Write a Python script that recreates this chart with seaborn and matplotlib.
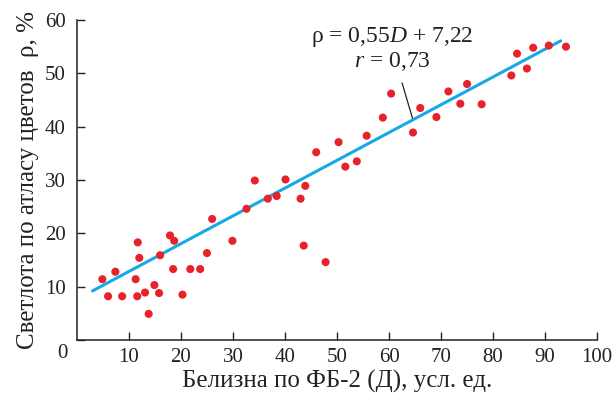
import matplotlib
matplotlib.use("Agg")
import matplotlib.pyplot as plt
import seaborn as sns
import pandas as pd

# measured points (ФБ-2 whiteness vs. lightness)
belizna = [4.9, 6.0, 7.4, 8.7, 11.3, 11.7, 12.0, 11.6, 13.1, 13.8, 14.9, 15.8, 16.0,
           17.9, 18.7, 18.5, 20.3, 21.8, 23.7, 25.0, 26.0, 29.9, 32.6, 34.2, 36.7,
           38.4, 40.1, 43.0, 43.9, 43.6, 46.0, 47.8, 50.3, 51.6, 53.8, 55.7, 58.8,
           60.4, 64.6, 66.0, 69.1, 71.4, 73.7, 75.0, 77.8, 83.5, 84.6, 86.5, 87.7,
           90.7, 94.0]
svetlota = [11.4, 8.2, 12.8, 8.2, 11.4, 18.3, 15.4, 8.2, 8.9, 4.9, 10.3, 8.8, 15.9,
            19.6, 18.6, 13.3, 8.5, 13.3, 13.3, 16.3, 22.7, 18.6, 24.6, 29.9, 26.5,
            27.0, 30.1, 26.5, 28.9, 17.7, 35.2, 14.6, 37.1, 32.5, 33.5, 38.3, 41.7,
            46.2, 38.9, 43.5, 41.8, 46.6, 44.3, 48.0, 44.2, 49.6, 53.7, 50.9, 54.8,
            55.2, 55.0]

# regression line ends as drawn
fit_x = [3.0, 93.0]
fit_y = [9.2, 56.1]

x_ticks = [10, 20, 30, 40, 50, 60, 70, 80, 90, 100]
y_ticks = [0, 10, 20, 30, 40, 50, 60]

sns.set_style("ticks")
plt.rcParams["font.family"] = ["Liberation Serif", "DejaVu Serif"]
plt.rcParams["mathtext.fontset"] = "custom"
plt.rcParams["mathtext.rm"] = "Liberation Serif"
plt.rcParams["mathtext.it"] = "Liberation Serif:italic"

ink = "#222222"
df = pd.DataFrame({"x": belizna, "y": svetlota})
fit = pd.DataFrame({"x": fit_x, "y": fit_y})

fig = plt.figure(figsize=(6.15, 4.0), dpi=100)
ax = fig.add_axes([0.125, 0.15, 0.846, 0.80])

sns.lineplot(data=fit, x="x", y="y", ax=ax, color="#16a9e6", linewidth=2.2, zorder=2)
sns.scatterplot(data=df, x="x", y="y", ax=ax, color="#e8222b", s=34,
                edgecolor="none", zorder=3)

ax.set_xlim(0, 100)
ax.set_ylim(0, 60)
ax.set_xticks(x_ticks)
ax.set_xticklabels([str(t) for t in x_ticks])
ax.set_yticks(y_ticks)
ax.set_yticklabels([""] + [str(t) for t in y_ticks[1:]])
ax.tick_params(direction="in", length=6, width=1, labelsize=15, colors=ink)
ax.tick_params(axis="x", pad=6)
ax.tick_params(axis="y", pad=8)
for side in ["left", "bottom"]:
    ax.spines[side].set_linewidth(1.1)
    ax.spines[side].set_color(ink)
sns.despine(ax=ax)

ax.annotate("0", xy=(0, 0), xytext=(-14, -14), textcoords="offset pixels",
            ha="center", va="center", fontsize=15, color=ink,
            annotation_clip=False)

ax.set_xlabel("Белизна по ФБ-2 (Д), усл. ед.", fontsize=18, color=ink, labelpad=2)
ax.set_ylabel("Светлота по атласу цветов  ρ, %", fontsize=18, color=ink, labelpad=4)

ax.text(60.6, 56.8, "ρ = 0,55$\\mathit{D}$ + 7,22", ha="center", va="center",
        fontsize=17, color=ink)
ax.text(60.6, 52.2, "$\\mathit{r}$ = 0,73", ha="center", va="center",
        fontsize=17, color=ink)
ax.plot([62.5, 64.5], [48.2, 41.6], color=ink, linewidth=0.9, zorder=4)

fig.savefig("out.png", dpi=100)
